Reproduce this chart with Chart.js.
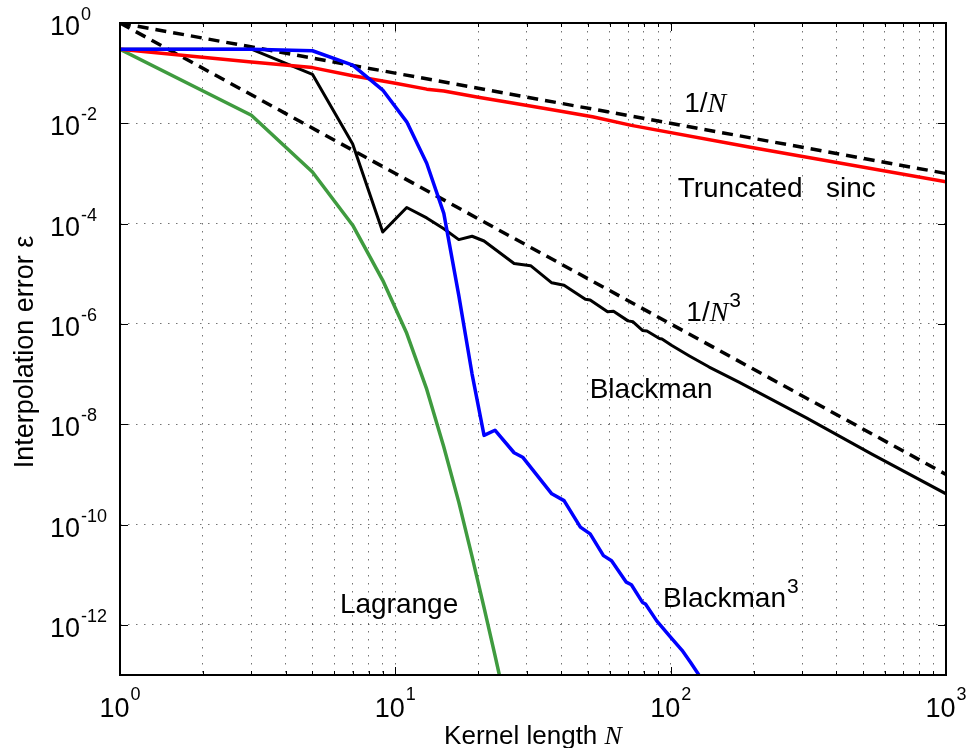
<!DOCTYPE html>
<html>
<head>
<meta charset="utf-8">
<title>Interpolation error vs kernel length</title>
<script src="https://cdn.jsdelivr.net/npm/chart.js@4.4.0/dist/chart.umd.min.js"></script>
<style>
  html, body { margin: 0; padding: 0; background: #fff; }
  #wrap { width: 971px; height: 748px; }
</style>
</head>
<body>
<div id="wrap"><canvas id="chart" width="971" height="748"></canvas></div>
<script>
// values (kernel length N, interpolation error)
const sincN   = [1, 3, 5, 7, 10, 13, 15, 20, 26, 39, 52, 72, 197, 1000];
const sincErr = [3.0e-1, 1.66e-1, 1.29e-1, 8.9e-2, 6.3e-2, 4.8e-2, 4.4e-2, 3.3e-2, 2.6e-2,
                 1.78e-2, 1.35e-2, 9.1e-3, 3.3e-3, 6.8e-4];

const blackmanN   = [1, 3, 5, 7, 9, 11, 13, 15, 17, 19, 21, 27, 31, 37, 41, 49, 51, 59, 62,
                     70, 73, 79, 82, 91, 93, 101, 117, 138, 177, 310, 540, 1000];
const blackmanErr = [3.0e-1, 3.0e-1, 9.5e-2, 3.85e-3, 6.8e-5, 2.1e-4, 1.3e-4, 7.9e-5, 4.8e-5,
                     5.6e-5, 4.5e-5, 1.6e-5, 1.45e-5, 6.6e-6, 5.9e-6, 3.1e-6, 3.0e-6, 1.74e-6,
                     1.78e-6, 1.15e-6, 1.10e-6, 7.4e-7, 7.2e-7, 5.1e-7, 5.0e-7, 3.7e-7, 2.3e-7,
                     1.38e-7, 6.9e-8, 1.35e-8, 2.5e-9, 4.1e-10];

const blackman3N   = [1, 3, 5, 7, 9, 11, 13, 15, 17, 19, 21, 23, 27, 29, 37, 41, 47, 51, 57,
                      61, 69, 72, 79, 81, 89, 99, 110, 118, 127, 135];
const blackman3Err = [3.0e-1, 3.0e-1, 2.8e-1, 1.45e-1, 4.6e-2, 1.07e-2, 1.6e-3, 1.6e-4, 3.7e-6,
                      1.0e-7, 6.0e-9, 7.6e-9, 2.7e-9, 2.2e-9, 4.1e-10, 3.0e-10, 8.9e-11, 6.5e-11,
                      2.4e-11, 1.9e-11, 7.1e-12, 6.3e-12, 2.8e-12, 2.6e-12, 1.2e-12, 6.0e-13,
                      3.1e-13, 1.8e-13, 9.8e-14, 6.3e-14];

const lagrangeN   = [1, 3, 5, 7, 9, 11, 13, 15, 17, 19, 21, 23, 25];
const lagrangeErr = [3.0e-1, 1.45e-2, 1.07e-3, 9.3e-5, 7.4e-6, 6.5e-7, 5.0e-8, 3.5e-9, 2.8e-10,
                     2.3e-11, 2.2e-12, 2.5e-13, 3.2e-14];

// reference slopes 1/N and 1/N^3
const refN      = [1, 1000];
const invN      = [1, 1e-3];
const invN3     = [1, 1e-9];

// tick exponents
const xTickExps = [0, 1, 2, 3];
const yTickExps = [0, -2, -4, -6, -8, -10, -12];

const SANS = '"Liberation Sans", Arial, Helvetica, sans-serif';
const SERIF = '"Liberation Serif", "Times New Roman", serif';

const pts = (xs, ys) => xs.map((x, i) => ({ x: x, y: ys[i] }));

function line(label, xs, ys, color, width, dash) {
    return {
        label: label,
        data: pts(xs, ys),
        borderColor: color,
        borderWidth: width,
        borderDash: dash || [],
        borderJoinStyle: 'round',
        pointRadius: 0,
        tension: 0,
        fill: false
    };
}

// minor x grid at 1..9 x 10^k
const xGridValues = [];
for (let k = 0; k < 3; k++) {
    for (let m = 1; m < 10; m++) xGridValues.push(m * Math.pow(10, k));
}
xGridValues.push(1000);

// text annotations placed in data coordinates
const notes = [
    { parts: [['1/', SANS], ['N', SERIF, true]], n: 112, e: 1.7e-2 },
    { parts: [['Truncated   sinc', SANS]], n: 106, e: 3.45e-4 },
    { parts: [['1/', SANS], ['N', SERIF, true], ['3', SANS, false, true]], n: 114, e: 1.17e-6 },
    { parts: [['Blackman', SANS]], n: 50.8, e: 3.3e-8 },
    { parts: [['Lagrange', SANS]], n: 6.29, e: 1.7e-12 },
    { parts: [['Blackman', SANS], ['3', SANS, false, true]], n: 93.8, e: 2.3e-12 }
];

const decorations = {
    id: 'decorations',
    afterDraw(chart) {
        const { ctx, chartArea: a, scales: { x, y } } = chart;
        ctx.save();

        // frame
        ctx.strokeStyle = '#000';
        ctx.lineWidth = 2;
        ctx.strokeRect(a.left, a.top, a.right - a.left, a.bottom - a.top);

        // inward tick marks
        ctx.lineWidth = 1;
        ctx.beginPath();
        xGridValues.forEach(v => {
            const px = Math.round(x.getPixelForValue(v)) + 0.5;
            const len = Math.log10(v) % 1 === 0 ? 8 : 4;
            ctx.moveTo(px, a.bottom); ctx.lineTo(px, a.bottom - len);
            ctx.moveTo(px, a.top); ctx.lineTo(px, a.top + len);
        });
        yTickExps.forEach(e => {
            const py = Math.round(y.getPixelForValue(Math.pow(10, e))) + 0.5;
            ctx.moveTo(a.left, py); ctx.lineTo(a.left + 8, py);
            ctx.moveTo(a.right, py); ctx.lineTo(a.right - 8, py);
        });
        ctx.stroke();

        ctx.fillStyle = '#000';
        ctx.textBaseline = 'alphabetic';
        ctx.textAlign = 'left';

        // y tick labels 10^e
        yTickExps.forEach(e => {
            const py = y.getPixelForValue(Math.pow(10, e));
            ctx.font = '27px ' + SANS;
            ctx.fillText('10', 50, py + 12);
            const w = ctx.measureText('10').width;
            ctx.font = '18px ' + SANS;
            ctx.fillText(String(e), 50 + w + 1, py - 3);
        });

        // x tick labels 10^e
        xTickExps.forEach(e => {
            const px = x.getPixelForValue(Math.pow(10, e));
            ctx.font = '27px ' + SANS;
            const w = ctx.measureText('10').width;
            ctx.font = '18px ' + SANS;
            const ws = ctx.measureText(String(e)).width;
            const start = px - (w + ws + 1) / 2;
            ctx.font = '27px ' + SANS;
            ctx.fillText('10', start, a.bottom + 42);
            ctx.font = '18px ' + SANS;
            ctx.fillText(String(e), start + w + 1, a.bottom + 25);
        });

        // axis titles
        ctx.font = '26px ' + SANS;
        const t1 = 'Kernel length ';
        const w1 = ctx.measureText(t1).width;
        ctx.font = 'italic 26px ' + SERIF;
        const w2 = ctx.measureText('N').width;
        const cx = (a.left + a.right) / 2;
        ctx.font = '26px ' + SANS;
        ctx.fillText(t1, cx - (w1 + w2) / 2, 744);
        ctx.font = 'italic 26px ' + SERIF;
        ctx.fillText('N', cx - (w1 + w2) / 2 + w1, 744);

        ctx.save();
        ctx.translate(33, (a.top + a.bottom) / 2 + 3);
        ctx.rotate(-Math.PI / 2);
        ctx.textAlign = 'center';
        ctx.font = '27px ' + SANS;
        ctx.fillText('Interpolation error \u03b5', 0, 0);
        ctx.restore();

        // curve annotations
        notes.forEach(nt => {
            let px = x.getPixelForValue(nt.n);
            const py = y.getPixelForValue(nt.e);
            nt.parts.forEach(([txt, fam, ital, sup]) => {
                ctx.font = (ital ? 'italic ' : '') + (sup ? '21px ' : '28px ') + fam;
                ctx.fillText(txt, px + (sup ? 1 : 0), sup ? py - 14 : py);
                px += ctx.measureText(txt).width + (sup ? 1 : 0);
            });
        });

        ctx.restore();
    }
};

new Chart(document.getElementById('chart'), {
    type: 'line',
    data: {
        datasets: [
            line('Blackman^3', blackman3N, blackman3Err, '#0000ff', 3.5),
            line('Truncated sinc', sincN, sincErr, '#ff0000', 3.5),
            line('Blackman', blackmanN, blackmanErr, '#000000', 3),
            line('Lagrange', lagrangeN, lagrangeErr, '#3f9b3f', 3.5),
            line('1/N', refN, invN, '#000000', 3.5, [11, 7]),
            line('1/N^3', refN, invN3, '#000000', 3.5, [11, 7])
        ]
    },
    options: {
        responsive: false,
        animation: false,
        layout: { padding: { left: 120, right: 25, top: 23, bottom: 73 } },
        plugins: {
            legend: { display: false },
            tooltip: { enabled: false }
        },
        scales: {
            x: {
                type: 'logarithmic',
                min: 1,
                max: 1000,
                afterBuildTicks: s => { s.ticks = xGridValues.map(v => ({ value: v })); },
                afterFit: s => { s.height = 0; },
                ticks: { display: false },
                grid: { color: 'rgba(0,0,0,0.55)', lineWidth: 1, drawTicks: false },
                border: { display: false, dash: [1.5, 6.5] }
            },
            y: {
                type: 'logarithmic',
                min: 1e-13,
                max: 1,
                afterBuildTicks: s => { s.ticks = yTickExps.map(e => ({ value: Math.pow(10, e) })); },
                afterFit: s => { s.width = 0; },
                ticks: { display: false },
                grid: { color: 'rgba(0,0,0,0.55)', lineWidth: 1, drawTicks: false },
                border: { display: false, dash: [1.5, 6.5] }
            }
        }
    },
    plugins: [decorations]
});
</script>
</body>
</html>
